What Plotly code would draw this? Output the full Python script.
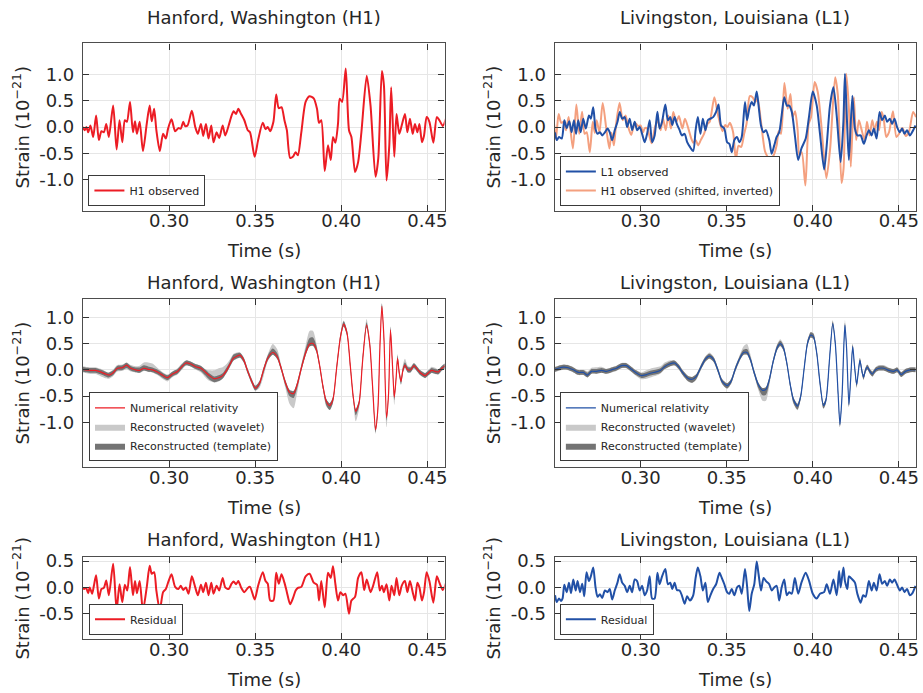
import plotly.graph_objects as go

# ---------------- data ----------------
time_ticks = [0.30, 0.35, 0.40, 0.45]
time_tick_labels = ["0.30", "0.35", "0.40", "0.45"]
strain_ticks = [-1.0, -0.5, 0.0, 0.5, 1.0]
strain_tick_labels = ["-1.0", "-0.5", "0.0", "0.5", "1.0"]
resid_ticks = [-0.5, 0.0, 0.5]
resid_tick_labels = ["-0.5", "0.0", "0.5"]

# H1 observed (top left)
h1_obs_t = [0.2493, 0.2510, 0.2520, 0.2530, 0.2543, 0.2559, 0.2576, 0.2592, 0.2607, 0.2621,
            0.2635, 0.2650, 0.2675, 0.2695, 0.2712, 0.2728, 0.2743, 0.2755, 0.2773, 0.2790,
            0.2802, 0.2813, 0.2829, 0.2848, 0.2870, 0.2887, 0.2899, 0.2913, 0.2926, 0.2946,
            0.2965, 0.2981, 0.2994, 0.3014, 0.3035, 0.3054, 0.3068, 0.3082, 0.3093, 0.3107,
            0.3132, 0.3152, 0.3167, 0.3185, 0.3198, 0.3214, 0.3229, 0.3245, 0.3258, 0.3276,
            0.3291, 0.3311, 0.3326, 0.3346, 0.3363, 0.3375, 0.3389, 0.3402, 0.3418, 0.3437,
            0.3457, 0.3470, 0.3497, 0.3517, 0.3544, 0.3560, 0.3573, 0.3587, 0.3606, 0.3622,
            0.3637, 0.3653, 0.3670, 0.3684, 0.3703, 0.3719, 0.3735, 0.3748, 0.3768, 0.3793,
            0.3816, 0.3840, 0.3859, 0.3871, 0.3884, 0.3904, 0.3923, 0.3939, 0.3952, 0.3966,
            0.3981, 0.3991, 0.4005, 0.4026, 0.4045, 0.4059, 0.4080, 0.4098, 0.4117, 0.4148,
            0.4170, 0.4199, 0.4215, 0.4236, 0.4248, 0.4263, 0.4279, 0.4290, 0.4308, 0.4321,
            0.4337, 0.4351, 0.4370, 0.4384, 0.4399, 0.4415, 0.4428, 0.4442, 0.4454, 0.4469,
            0.4481, 0.4496, 0.4512, 0.4535, 0.4555, 0.4570, 0.4590, 0.4609]
h1_obs = [0.02, -0.06, 0.00, -0.10, 0.03, -0.19, 0.22, -0.25, -0.08, -0.10,
          0.06, -0.19, 0.41, -0.43, 0.13, -0.29, 0.13, 0.10, 0.48, -0.10,
          0.11, -0.13, 0.10, -0.46, 0.06, 0.41, 0.11, 0.35, -0.06, -0.46,
          -0.13, -0.22, -0.03, 0.15, -0.08, -0.02, -0.03, 0.10, 0.02, 0.03,
          0.31, 0.00, -0.13, 0.06, -0.17, 0.06, -0.22, 0.03, -0.29, -0.10,
          -0.21, 0.03, -0.16, 0.03, 0.22, 0.30, 0.25, 0.35, 0.25, 0.13,
          -0.06, -0.10, -0.57, -0.25, 0.08, -0.04, 0.00, -0.08, 0.10, 0.62,
          0.36, 0.38, 0.13, -0.06, -0.59, -0.57, -0.48, -0.54, -0.10, 0.48,
          0.59, 0.55, 0.35, 0.08, 0.13, -0.84, -0.35, -0.63, -0.19, -0.30,
          0.06, 0.54, 0.48, 1.12, -0.06, -0.19, -0.86, -0.67, -0.10, 0.98,
          0.41, -0.95, -0.60, 1.07, 0.79, -1.02, -0.35, 0.76, -0.57, 0.25,
          -0.13, 0.03, 0.25, -0.10, 0.16, -0.13, 0.06, -0.10, 0.06, -0.29,
          -0.16, 0.19, 0.10, -0.30, 0.19, 0.13, 0.02, 0.17]

# H1 observed, shifted and inverted (top right, salmon)
h1_shift_t = [0.2424, 0.2441, 0.2451, 0.2461, 0.2474, 0.2490, 0.2507, 0.2523, 0.2538, 0.2552,
              0.2566, 0.2581, 0.2606, 0.2626, 0.2643, 0.2659, 0.2674, 0.2686, 0.2704, 0.2721,
              0.2733, 0.2744, 0.2760, 0.2779, 0.2801, 0.2818, 0.2830, 0.2844, 0.2857, 0.2877,
              0.2896, 0.2912, 0.2925, 0.2945, 0.2966, 0.2985, 0.2999, 0.3013, 0.3024, 0.3038,
              0.3063, 0.3083, 0.3098, 0.3116, 0.3129, 0.3145, 0.3160, 0.3176, 0.3189, 0.3207,
              0.3222, 0.3242, 0.3257, 0.3277, 0.3294, 0.3306, 0.3320, 0.3333, 0.3349, 0.3368,
              0.3388, 0.3401, 0.3428, 0.3448, 0.3475, 0.3491, 0.3504, 0.3518, 0.3537, 0.3553,
              0.3568, 0.3584, 0.3601, 0.3615, 0.3634, 0.3650, 0.3666, 0.3679, 0.3699, 0.3724,
              0.3747, 0.3771, 0.3790, 0.3802, 0.3815, 0.3835, 0.3854, 0.3870, 0.3883, 0.3897,
              0.3912, 0.3922, 0.3936, 0.3957, 0.3976, 0.3990, 0.4011, 0.4029, 0.4048, 0.4079,
              0.4101, 0.4130, 0.4146, 0.4167, 0.4179, 0.4194, 0.4210, 0.4221, 0.4239, 0.4252,
              0.4268, 0.4282, 0.4301, 0.4315, 0.4330, 0.4346, 0.4359, 0.4373, 0.4385, 0.4400,
              0.4412, 0.4427, 0.4443, 0.4466, 0.4486, 0.4501, 0.4521, 0.4540, 0.4560, 0.4583,
              0.4600]
h1_shift = [-0.02, 0.06, 0.00, 0.10, -0.03, 0.19, -0.22, 0.25, 0.08, 0.10,
            -0.06, 0.19, -0.41, 0.43, -0.13, 0.29, -0.13, -0.10, -0.48, 0.10,
            -0.11, 0.13, -0.10, 0.46, -0.06, -0.41, -0.11, -0.35, 0.06, 0.46,
            0.13, 0.22, 0.03, -0.15, 0.08, 0.02, 0.03, -0.10, -0.02, -0.03,
            -0.31, 0.00, 0.13, -0.06, 0.17, -0.06, 0.22, -0.03, 0.29, 0.10,
            0.21, -0.03, 0.16, -0.03, -0.22, -0.30, -0.25, -0.35, -0.25, -0.13,
            0.06, 0.10, 0.57, 0.25, -0.08, 0.04, 0.00, 0.08, -0.10, -0.62,
            -0.36, -0.38, -0.13, 0.06, 0.59, 0.57, 0.48, 0.54, 0.10, -0.48,
            -0.59, -0.55, -0.35, -0.08, -0.13, 0.84, 0.35, 0.63, 0.19, 0.30,
            -0.06, -0.54, -0.48, -1.12, 0.06, 0.19, 0.86, 0.67, 0.10, -0.98,
            -0.41, 0.95, 0.60, -1.07, -0.79, 1.02, 0.35, -0.76, 0.57, -0.25,
            0.13, -0.03, -0.25, 0.10, -0.16, 0.13, -0.06, 0.10, -0.06, 0.29,
            0.16, -0.19, -0.10, 0.30, -0.19, -0.13, -0.02, -0.17, -0.08, 0.29,
            0.19]

# L1 observed (top right, blue)
l1_obs_t = [0.2502, 0.2512, 0.2525, 0.2541, 0.2556, 0.2570, 0.2585, 0.2598, 0.2612, 0.2624,
            0.2637, 0.2651, 0.2666, 0.2681, 0.2699, 0.2710, 0.2724, 0.2737, 0.2749, 0.2763,
            0.2776, 0.2792, 0.2807, 0.2820, 0.2834, 0.2849, 0.2865, 0.2878, 0.2892, 0.2907,
            0.2921, 0.2936, 0.2950, 0.2965, 0.2979, 0.2994, 0.3008, 0.3023, 0.3037, 0.3052,
            0.3066, 0.3081, 0.3097, 0.3110, 0.3124, 0.3143, 0.3158, 0.3172, 0.3183, 0.3197,
            0.3210, 0.3226, 0.3239, 0.3255, 0.3270, 0.3286, 0.3305, 0.3319, 0.3332, 0.3347,
            0.3361, 0.3376, 0.3390, 0.3405, 0.3421, 0.3438, 0.3452, 0.3467, 0.3486, 0.3502,
            0.3515, 0.3529, 0.3544, 0.3560, 0.3573, 0.3587, 0.3606, 0.3618, 0.3631, 0.3645,
            0.3658, 0.3674, 0.3685, 0.3699, 0.3714, 0.3728, 0.3747, 0.3761, 0.3776, 0.3790,
            0.3805, 0.3819, 0.3834, 0.3849, 0.3863, 0.3878, 0.3896, 0.3915, 0.3934, 0.3959,
            0.3979, 0.4000, 0.4023, 0.4042, 0.4066, 0.4081, 0.4100, 0.4120, 0.4139, 0.4162,
            0.4178, 0.4187, 0.4201, 0.4210, 0.4230, 0.4245, 0.4259, 0.4278, 0.4297, 0.4313,
            0.4326, 0.4342, 0.4355, 0.4371, 0.4388, 0.4403, 0.4419, 0.4432, 0.4448, 0.4461,
            0.4475, 0.4490, 0.4506, 0.4519, 0.4533, 0.4548, 0.4564, 0.4577, 0.4597]
l1_obs = [-0.10, -0.25, -0.19, -0.22, 0.13, -0.02, 0.11, -0.10, 0.13, -0.13,
          0.13, -0.10, 0.16, -0.03, 0.22, 0.16, 0.38, -0.03, -0.13, -0.10,
          -0.16, -0.10, -0.03, -0.10, -0.25, -0.06, 0.10, 0.29, 0.16, 0.19,
          0.00, 0.16, -0.06, 0.10, -0.06, 0.00, -0.13, -0.29, -0.13, 0.13,
          -0.29, -0.16, 0.29, -0.03, 0.10, 0.43, 0.13, 0.19, 0.04, 0.19,
          0.06, -0.06, -0.16, -0.13, -0.29, -0.38, -0.46, -0.06, 0.19, -0.13,
          0.16, -0.06, 0.13, 0.16, 0.19, 0.29, 0.43, 0.03, -0.03, -0.29,
          -0.32, -0.48, -0.25, -0.19, -0.29, -0.19, 0.48, 0.13, 0.35, 0.48,
          0.41, 0.68, 0.41, 0.03, -0.10, -0.06, -0.25, -0.51, -0.35, -0.19,
          -0.10, 0.22, 0.57, 0.41, 0.41, 0.29, -0.16, -0.63, -0.41, -0.22,
          0.22, 0.68, 0.41, -0.13, -0.81, -0.35, 0.41, 0.76, 0.22, -0.67,
          0.10, 1.02, -0.06, -0.63, 0.60, -0.03, -0.16, -0.16, -0.32, -0.16,
          -0.06, -0.16, -0.03, -0.22, 0.29, 0.13, 0.22, 0.10, 0.16, 0.06,
          0.16, 0.00, -0.10, -0.03, -0.13, -0.06, -0.16, -0.10, 0.03]

# H1 numerical relativity + reconstruction bands (middle left)
h1_nr_t = [0.2493, 0.2514, 0.2543, 0.2572, 0.2602, 0.2631, 0.2650, 0.2674, 0.2699, 0.2728,
           0.2753, 0.2777, 0.2806, 0.2829, 0.2854, 0.2878, 0.2903, 0.2932, 0.2961, 0.2990,
           0.3019, 0.3049, 0.3074, 0.3097, 0.3126, 0.3155, 0.3185, 0.3210, 0.3233, 0.3262,
           0.3288, 0.3311, 0.3334, 0.3354, 0.3373, 0.3393, 0.3412, 0.3433, 0.3457, 0.3480,
           0.3501, 0.3525, 0.3548, 0.3573, 0.3602, 0.3628, 0.3651, 0.3676, 0.3700, 0.3723,
           0.3744, 0.3768, 0.3793, 0.3816, 0.3836, 0.3855, 0.3874, 0.3894, 0.3913, 0.3933,
           0.3952, 0.3972, 0.3995, 0.4014, 0.4034, 0.4053, 0.4069, 0.4084, 0.4104, 0.4123,
           0.4147, 0.4166, 0.4182, 0.4199, 0.4213, 0.4224, 0.4236, 0.4248, 0.4263, 0.4275,
           0.4286, 0.4298, 0.4308, 0.4318, 0.4327, 0.4337, 0.4347, 0.4358, 0.4370, 0.4386,
           0.4403, 0.4422, 0.4442, 0.4461, 0.4487, 0.4506, 0.4525, 0.4545, 0.4564, 0.4584,
           0.4609]
h1_nr = [0.01, 0.00, -0.01, -0.01, -0.04, -0.08, -0.10, -0.06, 0.03, 0.04,
         0.09, 0.03, 0.00, -0.01, 0.03, 0.01, 0.00, -0.04, -0.10, -0.15,
         -0.08, -0.03, 0.06, 0.13, 0.11, 0.06, 0.03, -0.04, -0.11, -0.17,
         -0.15, -0.11, -0.01, 0.11, 0.22, 0.26, 0.28, 0.19, -0.03, -0.22,
         -0.35, -0.26, -0.01, 0.22, 0.33, 0.25, 0.03, -0.25, -0.43, -0.45,
         -0.28, 0.03, 0.32, 0.49, 0.50, 0.39, 0.09, -0.32, -0.60, -0.68,
         -0.56, 0.00, 0.62, 0.87, 0.69, 0.06, -0.50, -0.79, -0.62, 0.13,
         0.85, 0.47, -0.32, -1.14, -0.73, 0.38, 1.21, 0.60, -0.91, -0.44,
         0.76, 0.06, -0.52, -0.19, 0.22, -0.06, -0.22, -0.01, 0.09, 0.00,
         0.00, 0.08, 0.01, -0.06, -0.11, -0.06, -0.01, -0.03, -0.04, 0.03,
         0.09]
h1_tmpl_up = [0.045, 0.045, 0.045, 0.045, 0.045, 0.045, 0.045, 0.045, 0.045, 0.045,
              0.045, 0.045, 0.045, 0.055, 0.055, 0.055, 0.045, 0.045, 0.045, 0.045,
              0.045, 0.045, 0.045, 0.045, 0.045, 0.045, 0.045, 0.045, 0.045, 0.045,
              0.045, 0.045, 0.055, 0.055, 0.065, 0.055, 0.045, 0.045, 0.045, 0.045,
              0.045, 0.045, 0.045, 0.055, 0.075, 0.065, 0.045, 0.045, 0.045, 0.045,
              0.045, 0.055, 0.075, 0.115, 0.115, 0.075, 0.045, 0.045, 0.045, 0.045,
              0.045, 0.055, 0.055, 0.055, 0.055, 0.055, 0.045, 0.045, 0.045, 0.055,
              0.055, 0.055, 0.045, 0.045, 0.045, 0.055, 0.055, 0.055, 0.045, 0.045,
              0.055, 0.055, 0.045, 0.045, 0.055, 0.045, 0.045, 0.055, 0.055, 0.055,
              0.045, 0.045, 0.045, 0.045, 0.045, 0.045, 0.045, 0.045, 0.045, 0.045,
              0.045]
h1_tmpl_dn = [0.045, 0.045, 0.045, 0.045, 0.045, 0.045, 0.045, 0.045, 0.045, 0.045,
              0.055, 0.045, 0.045, 0.045, 0.045, 0.045, 0.045, 0.045, 0.045, 0.045,
              0.045, 0.045, 0.045, 0.045, 0.045, 0.045, 0.055, 0.065, 0.075, 0.065,
              0.065, 0.055, 0.045, 0.045, 0.045, 0.045, 0.045, 0.045, 0.045, 0.045,
              0.045, 0.045, 0.055, 0.045, 0.045, 0.045, 0.045, 0.055, 0.075, 0.085,
              0.065, 0.045, 0.045, 0.045, 0.045, 0.045, 0.045, 0.055, 0.075, 0.085,
              0.065, 0.055, 0.045, 0.045, 0.045, 0.055, 0.055, 0.075, 0.065, 0.055,
              0.045, 0.045, 0.055, 0.055, 0.055, 0.055, 0.045, 0.045, 0.055, 0.055,
              0.045, 0.055, 0.055, 0.045, 0.045, 0.045, 0.055, 0.045, 0.045, 0.045,
              0.045, 0.045, 0.045, 0.045, 0.045, 0.045, 0.045, 0.045, 0.045, 0.045,
              0.045]
h1_wav_up = [0.06, 0.06, 0.06, 0.06, 0.06, 0.05, 0.05, 0.06, 0.06, 0.06,
             0.05, 0.06, 0.07, 0.09, 0.11, 0.13, 0.12, 0.08, 0.06, 0.06,
             0.05, 0.06, 0.06, 0.05, 0.05, 0.05, 0.05, 0.05, 0.10, 0.16,
             0.18, 0.16, 0.12, 0.09, 0.08, 0.07, 0.05, 0.05, 0.05, 0.05,
             0.04, 0.04, 0.04, 0.07, 0.16, 0.14, 0.06, 0.05, 0.05, 0.05,
             0.05, 0.07, 0.14, 0.25, 0.24, 0.12, 0.05, 0.04, 0.04, 0.04,
             0.04, 0.06, 0.06, 0.07, 0.06, 0.05, 0.04, 0.04, 0.04, 0.06,
             0.12, 0.08, 0.04, 0.04, 0.04, 0.06, 0.06, 0.06, 0.04, 0.05,
             0.07, 0.06, 0.05, 0.07, 0.08, 0.07, 0.06, 0.10, 0.12, 0.08,
             0.06, 0.05, 0.05, 0.05, 0.05, 0.06, 0.07, 0.07, 0.05, 0.05,
             0.05]
h1_wav_dn = [0.06, 0.06, 0.07, 0.07, 0.08, 0.08, 0.07, 0.06, 0.06, 0.06,
             0.08, 0.06, 0.05, 0.05, 0.05, 0.05, 0.05, 0.06, 0.07, 0.07,
             0.06, 0.06, 0.06, 0.05, 0.05, 0.06, 0.08, 0.10, 0.10, 0.07,
             0.07, 0.06, 0.05, 0.05, 0.05, 0.05, 0.05, 0.05, 0.05, 0.05,
             0.05, 0.08, 0.12, 0.06, 0.04, 0.04, 0.05, 0.10, 0.22, 0.28,
             0.15, 0.05, 0.04, 0.04, 0.04, 0.04, 0.05, 0.06, 0.10, 0.08,
             0.06, 0.06, 0.04, 0.04, 0.04, 0.05, 0.08, 0.19, 0.12, 0.05,
             0.04, 0.04, 0.07, 0.08, 0.06, 0.05, 0.04, 0.05, 0.18, 0.08,
             0.05, 0.06, 0.15, 0.06, 0.05, 0.06, 0.07, 0.05, 0.05, 0.05,
             0.05, 0.05, 0.05, 0.05, 0.05, 0.05, 0.05, 0.05, 0.05, 0.05,
             0.05]

# L1 numerical relativity + reconstruction bands (middle right)
l1_nr_t = [0.2502, 0.2521, 0.2550, 0.2579, 0.2608, 0.2637, 0.2666, 0.2691, 0.2714, 0.2743,
           0.2772, 0.2801, 0.2830, 0.2859, 0.2888, 0.2917, 0.2946, 0.2975, 0.3004, 0.3033,
           0.3062, 0.3091, 0.3116, 0.3139, 0.3168, 0.3197, 0.3220, 0.3245, 0.3274, 0.3299,
           0.3322, 0.3347, 0.3375, 0.3400, 0.3425, 0.3448, 0.3473, 0.3502, 0.3525, 0.3548,
           0.3573, 0.3598, 0.3618, 0.3637, 0.3660, 0.3683, 0.3708, 0.3728, 0.3747, 0.3770,
           0.3792, 0.3811, 0.3830, 0.3849, 0.3869, 0.3888, 0.3911, 0.3930, 0.3950, 0.3969,
           0.3988, 0.4004, 0.4023, 0.4042, 0.4062, 0.4077, 0.4097, 0.4116, 0.4131, 0.4147,
           0.4158, 0.4170, 0.4181, 0.4187, 0.4197, 0.4210, 0.4220, 0.4232, 0.4243, 0.4255,
           0.4266, 0.4274, 0.4286, 0.4295, 0.4307, 0.4317, 0.4332, 0.4346, 0.4365, 0.4384,
           0.4413, 0.4442, 0.4471, 0.4490, 0.4514, 0.4539, 0.4568, 0.4597]
l1_nr = [0.01, 0.03, 0.05, 0.04, 0.00, -0.05, -0.05, -0.10, -0.03, -0.03,
         -0.01, -0.03, 0.00, 0.03, 0.08, 0.08, 0.01, -0.06, -0.11, -0.09,
         -0.06, -0.04, -0.01, 0.06, 0.11, 0.13, 0.06, -0.06, -0.16, -0.18,
         -0.13, 0.03, 0.20, 0.26, 0.19, 0.00, -0.22, -0.30, -0.22, 0.00,
         0.20, 0.33, 0.33, 0.20, -0.06, -0.28, -0.39, -0.37, -0.19, 0.16,
         0.41, 0.50, 0.41, 0.13, -0.28, -0.57, -0.69, -0.50, 0.03, 0.50,
         0.66, 0.63, 0.32, -0.25, -0.68, -0.57, 0.19, 0.88, 0.50, -0.44,
         -1.04, -0.50, 0.50, 0.85, 0.38, -0.66, -0.19, 0.44, 0.06, -0.28,
         0.00, 0.18, -0.03, -0.14, 0.00, 0.05, -0.03, -0.08, 0.00, 0.03,
         0.03, -0.01, -0.03, 0.00, -0.09, -0.03, 0.00, 0.00]
l1_tmpl_up = [0.045, 0.045, 0.045, 0.045, 0.045, 0.045, 0.045, 0.045, 0.045, 0.045,
              0.045, 0.045, 0.045, 0.045, 0.045, 0.045, 0.045, 0.045, 0.045, 0.045,
              0.045, 0.045, 0.045, 0.045, 0.045, 0.045, 0.045, 0.045, 0.045, 0.045,
              0.045, 0.045, 0.045, 0.045, 0.045, 0.045, 0.045, 0.045, 0.045, 0.045,
              0.045, 0.055, 0.065, 0.055, 0.045, 0.045, 0.045, 0.045, 0.045, 0.045,
              0.055, 0.055, 0.055, 0.045, 0.045, 0.045, 0.045, 0.045, 0.045, 0.055,
              0.055, 0.055, 0.055, 0.045, 0.045, 0.045, 0.045, 0.045, 0.045, 0.045,
              0.045, 0.045, 0.045, 0.045, 0.045, 0.045, 0.045, 0.045, 0.045, 0.045,
              0.045, 0.045, 0.045, 0.045, 0.045, 0.045, 0.045, 0.045, 0.045, 0.045,
              0.045, 0.045, 0.045, 0.045, 0.045, 0.045, 0.045, 0.045]
l1_tmpl_dn = [0.045, 0.045, 0.045, 0.045, 0.045, 0.045, 0.045, 0.045, 0.045, 0.045,
              0.045, 0.045, 0.045, 0.045, 0.045, 0.045, 0.045, 0.045, 0.045, 0.045,
              0.045, 0.045, 0.045, 0.045, 0.045, 0.045, 0.045, 0.045, 0.055, 0.065,
              0.055, 0.045, 0.045, 0.045, 0.045, 0.045, 0.045, 0.055, 0.045, 0.045,
              0.045, 0.045, 0.045, 0.045, 0.045, 0.065, 0.095, 0.105, 0.065, 0.045,
              0.045, 0.045, 0.045, 0.045, 0.055, 0.065, 0.065, 0.055, 0.045, 0.045,
              0.045, 0.045, 0.045, 0.055, 0.055, 0.055, 0.045, 0.045, 0.045, 0.045,
              0.045, 0.045, 0.045, 0.045, 0.045, 0.045, 0.045, 0.045, 0.045, 0.045,
              0.045, 0.045, 0.045, 0.045, 0.045, 0.045, 0.045, 0.045, 0.045, 0.045,
              0.045, 0.045, 0.045, 0.045, 0.045, 0.045, 0.045, 0.045]
l1_wav_up = [0.05, 0.05, 0.05, 0.05, 0.05, 0.05, 0.05, 0.07, 0.07, 0.08,
             0.07, 0.05, 0.05, 0.05, 0.05, 0.05, 0.05, 0.05, 0.06, 0.08,
             0.09, 0.09, 0.08, 0.08, 0.07, 0.05, 0.05, 0.05, 0.04, 0.04,
             0.04, 0.05, 0.05, 0.07, 0.05, 0.05, 0.04, 0.04, 0.04, 0.05,
             0.06, 0.12, 0.16, 0.10, 0.05, 0.04, 0.04, 0.04, 0.04, 0.05,
             0.07, 0.08, 0.07, 0.05, 0.04, 0.04, 0.04, 0.04, 0.05, 0.06,
             0.06, 0.07, 0.05, 0.04, 0.04, 0.04, 0.05, 0.07, 0.05, 0.04,
             0.04, 0.04, 0.05, 0.10, 0.05, 0.04, 0.04, 0.06, 0.05, 0.04,
             0.05, 0.05, 0.05, 0.04, 0.05, 0.05, 0.05, 0.05, 0.05, 0.06,
             0.06, 0.05, 0.05, 0.05, 0.05, 0.05, 0.05, 0.05]
l1_wav_dn = [0.05, 0.05, 0.05, 0.05, 0.05, 0.05, 0.05, 0.04, 0.04, 0.04,
             0.04, 0.04, 0.05, 0.05, 0.05, 0.05, 0.05, 0.06, 0.07, 0.08,
             0.08, 0.07, 0.06, 0.05, 0.05, 0.05, 0.05, 0.05, 0.06, 0.07,
             0.06, 0.05, 0.05, 0.05, 0.05, 0.05, 0.05, 0.06, 0.05, 0.05,
             0.05, 0.04, 0.04, 0.04, 0.05, 0.10, 0.20, 0.22, 0.12, 0.05,
             0.04, 0.04, 0.04, 0.05, 0.06, 0.08, 0.08, 0.06, 0.05, 0.04,
             0.04, 0.04, 0.04, 0.05, 0.06, 0.06, 0.05, 0.04, 0.04, 0.05,
             0.05, 0.05, 0.04, 0.04, 0.04, 0.05, 0.05, 0.04, 0.05, 0.07,
             0.05, 0.04, 0.05, 0.06, 0.05, 0.05, 0.05, 0.05, 0.05, 0.04,
             0.04, 0.04, 0.04, 0.04, 0.04, 0.04, 0.04, 0.04]

# Residuals (bottom row)
h1_res_t = [0.2493, 0.2506, 0.2518, 0.2530, 0.2539, 0.2553, 0.2563, 0.2576, 0.2592, 0.2607,
            0.2621, 0.2635, 0.2650, 0.2675, 0.2695, 0.2712, 0.2728, 0.2743, 0.2757, 0.2773,
            0.2790, 0.2802, 0.2813, 0.2829, 0.2848, 0.2870, 0.2887, 0.2899, 0.2913, 0.2926,
            0.2946, 0.2965, 0.2981, 0.2994, 0.3014, 0.3035, 0.3054, 0.3068, 0.3082, 0.3097,
            0.3113, 0.3132, 0.3152, 0.3167, 0.3185, 0.3198, 0.3214, 0.3229, 0.3245, 0.3258,
            0.3276, 0.3291, 0.3311, 0.3326, 0.3346, 0.3363, 0.3375, 0.3389, 0.3402, 0.3418,
            0.3437, 0.3457, 0.3470, 0.3497, 0.3517, 0.3544, 0.3560, 0.3573, 0.3587, 0.3606,
            0.3622, 0.3637, 0.3653, 0.3670, 0.3684, 0.3703, 0.3719, 0.3735, 0.3748, 0.3768,
            0.3793, 0.3816, 0.3840, 0.3859, 0.3871, 0.3884, 0.3904, 0.3923, 0.3939, 0.3952,
            0.3966, 0.3981, 0.3995, 0.4011, 0.4024, 0.4045, 0.4059, 0.4080, 0.4098, 0.4117,
            0.4133, 0.4148, 0.4170, 0.4185, 0.4209, 0.4224, 0.4236, 0.4248, 0.4263, 0.4279,
            0.4292, 0.4308, 0.4321, 0.4337, 0.4351, 0.4370, 0.4384, 0.4399, 0.4415, 0.4428,
            0.4442, 0.4454, 0.4469, 0.4481, 0.4496, 0.4512, 0.4535, 0.4555, 0.4570, 0.4590,
            0.4609]
h1_res = [0.01, -0.03, -0.01, -0.11, 0.00, -0.12, 0.03, 0.23, -0.21, -0.03,
          -0.01, 0.13, -0.15, 0.45, -0.43, 0.06, -0.28, 0.05, -0.06, 0.39,
          -0.15, 0.12, -0.11, 0.12, -0.44, 0.00, 0.41, 0.26, 0.29, -0.06,
          -0.43, -0.09, -0.03, 0.09, 0.25, 0.01, -0.03, 0.03, -0.05, 0.00,
          -0.12, 0.21, 0.00, -0.15, 0.05, -0.09, 0.09, -0.15, 0.09, -0.12,
          0.03, -0.06, 0.18, 0.00, -0.03, 0.07, 0.11, 0.06, 0.12, 0.00,
          -0.09, -0.01, 0.01, -0.23, 0.03, 0.29, 0.12, 0.07, -0.25, -0.25,
          0.28, 0.07, 0.25, 0.09, -0.09, -0.32, -0.21, -0.06, -0.01, 0.01,
          0.21, 0.26, 0.09, 0.05, -0.25, 0.12, -0.38, 0.28, 0.18, 0.40,
          0.06, -0.25, -0.09, -0.15, -0.12, -0.50, -0.25, -0.18, 0.18, 0.29,
          -0.05, 0.15, -0.09, 0.03, 0.29, -0.06, 0.03, -0.09, 0.06, -0.25,
          0.03, -0.15, 0.18, -0.15, 0.03, 0.12, -0.09, 0.12, -0.09, -0.25,
          0.09, 0.00, -0.25, -0.09, 0.29, 0.12, -0.29, 0.21, 0.09, -0.05,
          0.09]
l1_res_t = [0.2502, 0.2512, 0.2525, 0.2537, 0.2546, 0.2556, 0.2570, 0.2583, 0.2595, 0.2608,
            0.2622, 0.2633, 0.2647, 0.2660, 0.2672, 0.2685, 0.2699, 0.2710, 0.2724, 0.2737,
            0.2749, 0.2763, 0.2776, 0.2792, 0.2807, 0.2820, 0.2834, 0.2849, 0.2865, 0.2878,
            0.2892, 0.2907, 0.2921, 0.2936, 0.2950, 0.2965, 0.2979, 0.2994, 0.3008, 0.3023,
            0.3037, 0.3052, 0.3066, 0.3081, 0.3097, 0.3110, 0.3124, 0.3143, 0.3158, 0.3172,
            0.3183, 0.3197, 0.3210, 0.3226, 0.3239, 0.3255, 0.3270, 0.3286, 0.3305, 0.3319,
            0.3332, 0.3347, 0.3361, 0.3376, 0.3390, 0.3405, 0.3421, 0.3438, 0.3458, 0.3471,
            0.3486, 0.3502, 0.3515, 0.3529, 0.3544, 0.3560, 0.3573, 0.3587, 0.3606, 0.3618,
            0.3631, 0.3645, 0.3660, 0.3674, 0.3685, 0.3699, 0.3714, 0.3728, 0.3747, 0.3761,
            0.3776, 0.3790, 0.3805, 0.3819, 0.3834, 0.3849, 0.3863, 0.3878, 0.3896, 0.3915,
            0.3934, 0.3959, 0.3979, 0.4000, 0.4023, 0.4042, 0.4066, 0.4081, 0.4100, 0.4120,
            0.4139, 0.4153, 0.4162, 0.4178, 0.4187, 0.4201, 0.4210, 0.4230, 0.4245, 0.4259,
            0.4278, 0.4293, 0.4307, 0.4326, 0.4342, 0.4355, 0.4371, 0.4388, 0.4403, 0.4419,
            0.4432, 0.4448, 0.4461, 0.4475, 0.4490, 0.4506, 0.4519, 0.4533, 0.4548, 0.4564,
            0.4577, 0.4597]
l1_res = [-0.15, -0.28, -0.21, -0.26, -0.21, 0.05, -0.09, 0.09, -0.11, 0.15,
          -0.06, 0.12, -0.09, 0.07, -0.17, 0.29, 0.12, 0.21, 0.38, 0.01,
          -0.18, -0.13, -0.20, -0.06, -0.09, -0.03, -0.23, -0.06, 0.09, 0.25,
          0.09, 0.03, -0.09, 0.03, -0.09, 0.15, 0.12, -0.06, 0.03, -0.15,
          -0.06, 0.21, -0.21, -0.21, 0.28, 0.06, 0.21, 0.35, 0.06, 0.09,
          -0.03, 0.09, -0.05, -0.06, -0.15, -0.31, -0.17, -0.25, -0.15, 0.18,
          0.38, 0.21, -0.06, 0.09, -0.28, -0.15, -0.03, 0.06, 0.28, 0.18,
          0.06, -0.09, -0.12, -0.03, -0.15, 0.00, 0.03, -0.12, 0.35, 0.03,
          -0.45, -0.12, 0.06, 0.49, 0.25, -0.06, 0.18, 0.12, 0.06, -0.06,
          0.00, 0.03, -0.25, 0.00, 0.15, -0.15, -0.09, -0.12, 0.18, -0.12,
          0.09, 0.28, 0.12, -0.12, -0.21, -0.12, -0.09, 0.06, -0.12, 0.15,
          -0.15, 0.31, 0.00, 0.38, 0.12, -0.03, 0.21, 0.15, 0.09, -0.12,
          -0.29, -0.15, -0.18, 0.12, -0.06, 0.09, -0.06, 0.25, 0.07, 0.12,
          0.03, 0.15, 0.09, 0.15, 0.05, -0.06, 0.00, -0.09, -0.03, -0.15,
          -0.12, 0.03]

for a, b in [(h1_obs_t, h1_obs), (h1_shift_t, h1_shift), (l1_obs_t, l1_obs),
             (h1_nr_t, h1_nr), (h1_nr_t, h1_tmpl_up), (h1_nr_t, h1_tmpl_dn),
             (h1_nr_t, h1_wav_up), (h1_nr_t, h1_wav_dn),
             (l1_nr_t, l1_nr), (l1_nr_t, l1_tmpl_up), (l1_nr_t, l1_tmpl_dn),
             (l1_nr_t, l1_wav_up), (l1_nr_t, l1_wav_dn),
             (h1_res_t, h1_res), (l1_res_t, l1_res)]:
    assert len(a) == len(b), (len(a), len(b))

# ---------------- styling ----------------
RED = "#ec1c24"
BLUE = "#2150a6"
SALMON = "#f4a07f"
LIGHT = "#c9c9c9"
DARK = "#747474"
FONT = "DejaVu Sans"
TXT = "#262626"
W, H = 923, 693
SMOOTH = 0.7

fig = go.Figure()


def axn(sub):
    return "" if sub == 1 else str(sub)


def line(x, y, name, color, width, sub, leg, rank):
    fig.add_trace(go.Scatter(
        x=x, y=y, name=name, mode="lines",
        line=dict(color=color, width=width, shape="spline", smoothing=SMOOTH),
        xaxis="x" + axn(sub), yaxis="y" + axn(sub),
        legend=leg, legendrank=rank, hoverinfo="skip"))


def band(t, center, up, dn, name, color, sub, leg, rank):
    lo = [c - d for c, d in zip(center, dn)]
    hi = [c + u for c, u in zip(center, up)]
    fig.add_trace(go.Scatter(
        x=t, y=lo, mode="lines", line=dict(width=0, shape="spline", smoothing=SMOOTH),
        xaxis="x" + axn(sub), yaxis="y" + axn(sub), legend=leg,
        showlegend=False, hoverinfo="skip"))
    fig.add_trace(go.Scatter(
        x=t, y=hi, mode="lines", name=name, fill="tonexty", fillcolor=color,
        line=dict(width=0, color=color, shape="spline", smoothing=SMOOTH),
        xaxis="x" + axn(sub), yaxis="y" + axn(sub), legend=leg, legendrank=rank,
        hoverinfo="skip"))


# top row
line(h1_obs_t, h1_obs, "H1 observed", RED, 2.0, 1, "legend", 1)
line(h1_shift_t, h1_shift, "H1 observed (shifted, inverted)", SALMON, 2.0, 2, "legend2", 2)
line(l1_obs_t, l1_obs, "L1 observed", BLUE, 2.0, 2, "legend2", 1)
# middle row
band(h1_nr_t, h1_nr, h1_wav_up, h1_wav_dn, "Reconstructed (wavelet)", LIGHT, 3, "legend3", 2)
band(h1_nr_t, h1_nr, h1_tmpl_up, h1_tmpl_dn, "Reconstructed (template)", DARK, 3, "legend3", 3)
line(h1_nr_t, h1_nr, "Numerical relativity", RED, 1.2, 3, "legend3", 1)
band(l1_nr_t, l1_nr, l1_wav_up, l1_wav_dn, "Reconstructed (wavelet)", LIGHT, 4, "legend4", 2)
band(l1_nr_t, l1_nr, l1_tmpl_up, l1_tmpl_dn, "Reconstructed (template)", DARK, 4, "legend4", 3)
line(l1_nr_t, l1_nr, "Numerical relativity", BLUE, 1.2, 4, "legend4", 1)
# bottom row
line(h1_res_t, h1_res, "Residual", RED, 2.0, 5, "legend5", 1)
line(l1_res_t, l1_res, "Residual", BLUE, 2.0, 6, "legend6", 1)

# ---------------- axes ----------------
col_px = [(83.3, 446.0), (556.5, 919.0)]
col_dom = [[a / W, b / W] for a, b in col_px]
row_px = [(37.7, 206.5), (295.5, 465.0), (555.7, 639.0)]
row_dom = [[1 - b / H, 1 - a / H] for a, b in row_px]
y_ranges = [[-1.6, 1.6], [-1.85, 1.35], [-0.99, 0.58]]

ax_common = dict(showline=True, linecolor="#4d4d4d", linewidth=1.3, mirror="allticks",
                 ticks="inside", ticklen=6, tickwidth=1.2, tickcolor="#333333",
                 showgrid=True, gridcolor="#e6e6e6", gridwidth=1, zeroline=False,
                 tickfont=dict(family=FONT, size=18, color=TXT), fixedrange=True)

layout = dict(width=W, height=H, margin=dict(l=0, r=0, t=0, b=0),
              paper_bgcolor="white", plot_bgcolor="white", showlegend=True,
              font=dict(family=FONT, color=TXT))

for sub in range(1, 7):
    r = (sub - 1) // 2
    c = (sub - 1) % 2
    sfx = axn(sub)
    layout["xaxis" + sfx] = dict(ax_common, domain=col_dom[c], range=[0.25, 0.46],
                                 anchor="y" + sfx, tickvals=time_ticks,
                                 ticktext=time_tick_labels, ticklabelstandoff=-6)
    if r < 2:
        yt, yl = strain_ticks, strain_tick_labels
    else:
        yt, yl = resid_ticks, resid_tick_labels
    layout["yaxis" + sfx] = dict(ax_common, domain=row_dom[r], range=y_ranges[r],
                                 anchor="x" + sfx, tickvals=yt, ticktext=yl,
                                 ticklabelstandoff=4)

# ---------------- legends ----------------
leg_pos = {  # (left px, bottom px)
    "legend": (88.7, 201.7), "legend2": (561.7, 201.7),
    "legend3": (89.3, 459.3), "legend4": (561.7, 459.3),
    "legend5": (89.3, 634.3), "legend6": (561.7, 634.3),
}
for k, (lx, by) in leg_pos.items():
    layout[k] = dict(x=lx / W, y=1 - by / H, xanchor="left", yanchor="bottom",
                     bgcolor="white", bordercolor="#3a3a3a", borderwidth=1,
                     font=dict(family=FONT, size=11, color=TXT),
                     itemwidth=30, tracegroupgap=0, traceorder="normal")

# ---------------- titles / axis labels ----------------
ann = []
col_cx = [(a + b) / 2 / W for a, b in col_px]
titles = ["Hanford, Washington (H1)", "Livingston, Louisiana (L1)"]
title_y = [12.0, 278.5, 538.5]
xlab_y = [246.5, 505.5, 679.0]
ylab_x = [21.5, 494.0]
for r in range(3):
    for c in range(2):
        ann.append(dict(text=titles[c], x=col_cx[c], y=1 - title_y[r] / H,
                        xref="paper", yref="paper", showarrow=False,
                        xanchor="center", yanchor="middle",
                        font=dict(family=FONT, size=18, color=TXT)))
        ann.append(dict(text="Time (s)", x=col_cx[c], y=1 - xlab_y[r] / H,
                        xref="paper", yref="paper", showarrow=False,
                        xanchor="center", yanchor="middle",
                        font=dict(family=FONT, size=18, color=TXT)))
        cy = (row_px[r][0] + row_px[r][1]) / 2
        ann.append(dict(text="Strain (10<sup>\u221221</sup>)", x=ylab_x[c] / W,
                        y=1 - cy / H, xref="paper", yref="paper", showarrow=False,
                        textangle=-90, xanchor="center", yanchor="middle",
                        font=dict(family=FONT, size=18, color=TXT)))
layout["annotations"] = ann

fig.update_layout(**layout)
fig.write_html("out.html")
